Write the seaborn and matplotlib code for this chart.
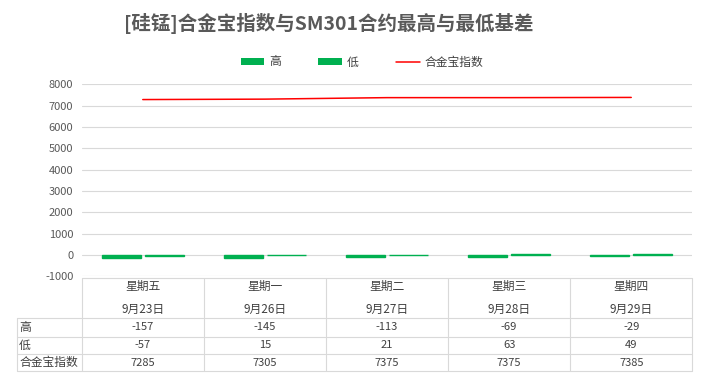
"""[硅锰]合金宝指数与SM301合约最高与最低基差 - Excel-style chart with data table."""

import matplotlib.pyplot as plt
from matplotlib.lines import Line2D
from matplotlib.patches import Patch
import numpy as np
import pandas as pd
import seaborn as sns

days = ["星期五", "星期一", "星期二", "星期三", "星期四"]
dates = ["9月23日", "9月26日", "9月27日", "9月28日", "9月29日"]
high = [-157, -145, -113, -69, -29]
low = [-57, 15, 21, 63, 49]
index_vals = [7285, 7305, 7375, 7375, 7385]
series_names = ["高", "低", "合金宝指数"]
y_ticks = list(range(-1000, 9000, 1000))

_GREEN = "#00B050"
_RED = "#FF0000"
_GRID = "#D9D9D9"
_TEXT = "#404040"
_TICK = "#595959"

sns.set_style("white")
plt.rcParams["font.family"] = ["Noto Sans CJK SC", "DejaVu Sans"]

W, H = 707, 387
fig = plt.figure(figsize=(W / 100, H / 100), dpi=100)

# plot area, in pixels
px_left, px_right = 81.7, 692.3
px_top, px_bottom = 84.3, 276.4
ax = fig.add_axes([px_left / W, 1 - px_bottom / H,
                   (px_right - px_left) / W, (px_bottom - px_top) / H])

bars = pd.DataFrame({
    "day": days * 2,
    "value": high + low,
    "series": [series_names[0]] * len(days) + [series_names[1]] * len(days),
})
sns.barplot(data=bars, x="day", y="value", hue="series",
            palette=[_GREEN, _GREEN], width=0.705, gap=0.09,
            ax=ax, legend=False, saturation=1,
            edgecolor=_GREEN, linewidth=1.0)
sns.lineplot(x=np.arange(len(days)), y=index_vals, color=_RED,
             linewidth=1.1, ax=ax)

ax.set_xlim(-0.5, len(days) - 0.5)
ax.set_ylim(y_ticks[0], y_ticks[-1])
ax.set_yticks(y_ticks)
ax.set_yticklabels([str(t) for t in y_ticks], fontsize=8, color=_TICK)
ax.tick_params(axis="y", length=0, pad=6)
ax.set_xticks([])
ax.set_xlabel("")
ax.set_ylabel("")
ax.grid(axis="y", color=_GRID, linewidth=0.8)
ax.set_axisbelow(True)
for s in ax.spines.values():
    s.set_visible(False)

# data table under the plot
tb_left, tb_top, tb_bottom = 17.3, 277.7, 371.3
cat_w = (px_right - px_left) / len(days)
x_start = -0.5 - (px_left - tb_left) / cat_w
tax = fig.add_axes([tb_left / W, 1 - tb_bottom / H,
                    (px_right - tb_left) / W, (tb_bottom - tb_top) / H])
tax.set_xlim(x_start, len(days) - 0.5)
row_edges = [0, 40.6, 59.0, 76.6, 93.6]
tax.set_ylim(row_edges[-1], 0)
tax.axis("off")

lw = 0.8
# horizontal lines
tax.plot([-0.5, len(days) - 0.5], [0, 0], color=_GRID, lw=lw, clip_on=False)
for yv in row_edges[1:]:
    tax.plot([x_start, len(days) - 0.5], [yv, yv], color=_GRID, lw=lw, clip_on=False)
# vertical lines
tax.plot([x_start, x_start], [row_edges[1], row_edges[-1]], color=_GRID, lw=lw, clip_on=False)
for i in range(len(days) + 1):
    tax.plot([i - 0.5, i - 0.5], [0, row_edges[-1]], color=_GRID, lw=lw, clip_on=False)

for i, (d, dt) in enumerate(zip(days, dates)):
    tax.text(i, 9.0, d, ha="center", va="center", fontsize=8.5, color=_TEXT)
    tax.text(i, 31.3, dt, ha="center", va="center", fontsize=8.5, color=_TEXT)

rows = [high, low, index_vals]
for r, (name, vals) in enumerate(zip(series_names, rows)):
    yc = (row_edges[r + 1] + row_edges[r + 2]) / 2
    tax.text(x_start + 0.015, yc, name, ha="left", va="center", fontsize=8.5, color=_TEXT)
    for i, v in enumerate(vals):
        tax.text(i, yc, str(v), ha="center", va="center", fontsize=8, color=_TEXT)

# legend and title
handles = [
    Patch(facecolor=_GREEN, edgecolor="none", label=series_names[0]),
    Patch(facecolor=_GREEN, edgecolor="none", label=series_names[1]),
    Line2D([], [], color=_RED, lw=1.1, label=series_names[2]),
]
fig.legend(handles=handles, loc="center", bbox_to_anchor=(362 / W, 1 - 62 / H),
           ncol=3, frameon=False, fontsize=8.5, handlelength=2.0,
           handleheight=0.55, columnspacing=3.2, handletextpad=0.4,
           labelcolor=_TEXT)

fig.text(329 / W, 1 - 23 / H, "[硅锰]合金宝指数与SM301合约最高与最低基差",
         ha="center", va="center", fontsize=14, fontweight="bold", color=_TICK)

fig.savefig("out.png", dpi=100)
plt.close(fig)
